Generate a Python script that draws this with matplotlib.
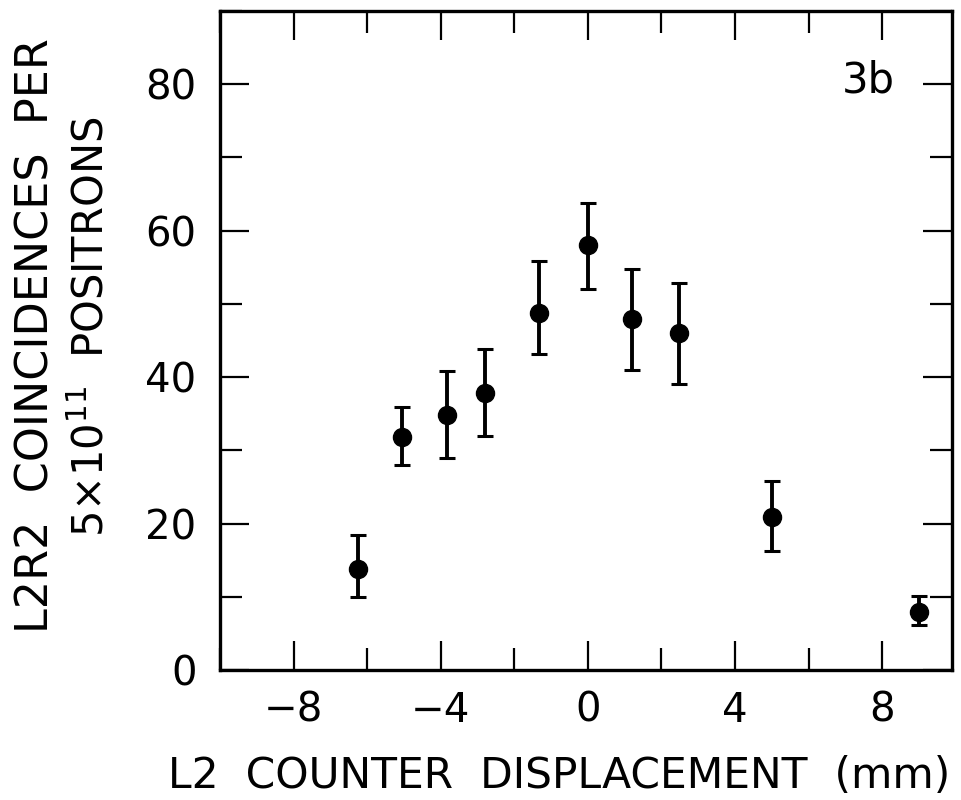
import numpy as np
import matplotlib
matplotlib.use("Agg")
import matplotlib.pyplot as plt
from matplotlib.ticker import MultipleLocator

# Data (3b)
disp = np.array([-6.25, -5.05, -3.83, -2.8, -1.33, 0.0, 1.2, 2.47, 5.0, 9.0])
counts = np.array([13.8, 31.8, 34.8, 37.8, 48.7, 58.0, 47.9, 46.0, 20.9, 7.9])
upper = np.array([18.4, 35.9, 40.9, 43.8, 55.8, 63.8, 54.8, 52.8, 25.8, 10.1])
lower = np.array([10.0, 28.0, 29.0, 32.0, 43.1, 52.0, 41.0, 39.0, 16.2, 6.1])

x_ticks = [-8, -4, 0, 4, 8]
y_ticks = [0, 20, 40, 60, 80]

plt.rcParams['font.family'] = ['DejaVu Sans']

fig = plt.figure(figsize=(9.62, 8), dpi=100)
ax = fig.add_axes([220/962, 130/800, 732/962, 659/800])

yerr = np.vstack([counts - lower, upper - counts])
ax.errorbar(disp, counts, yerr=yerr, fmt='o', color='black', ms=13,
            elinewidth=2.8, capsize=6, capthick=2.2)

ax.set_xlim(-10, 9.9)
ax.set_ylim(0, 90)
ax.set_xticks(x_ticks)
ax.set_yticks(y_ticks)
ax.xaxis.set_minor_locator(MultipleLocator(2))
ax.yaxis.set_minor_locator(MultipleLocator(10))
ax.tick_params(which='both', direction='in', top=True, right=True,
               labelsize=29, width=1.6)
ax.tick_params(axis='x', which='major', length=21, pad=15)
ax.tick_params(axis='y', which='major', length=21, pad=17)
ax.tick_params(which='minor', length=16)
for s in ax.spines.values():
    s.set_linewidth(2.4)

ax.text(8.35, 80.5, '3b', ha='right', va='center', fontsize=30)

fig.text(559/962, 12/800, 'L2  COUNTER  DISPLACEMENT  (mm)', ha='center',
         va='baseline', fontsize=30.5)
fig.text(36/962, 1 - 336/800, 'L2R2  COINCIDENCES  PER', rotation=90,
         ha='center', va='center', fontsize=32)
fig.text(92/962, 1 - 327/800, '5×10$^{11}$  POSITRONS', rotation=90,
         ha='center', va='center', fontsize=30)

fig.savefig('out.png', dpi=100)
